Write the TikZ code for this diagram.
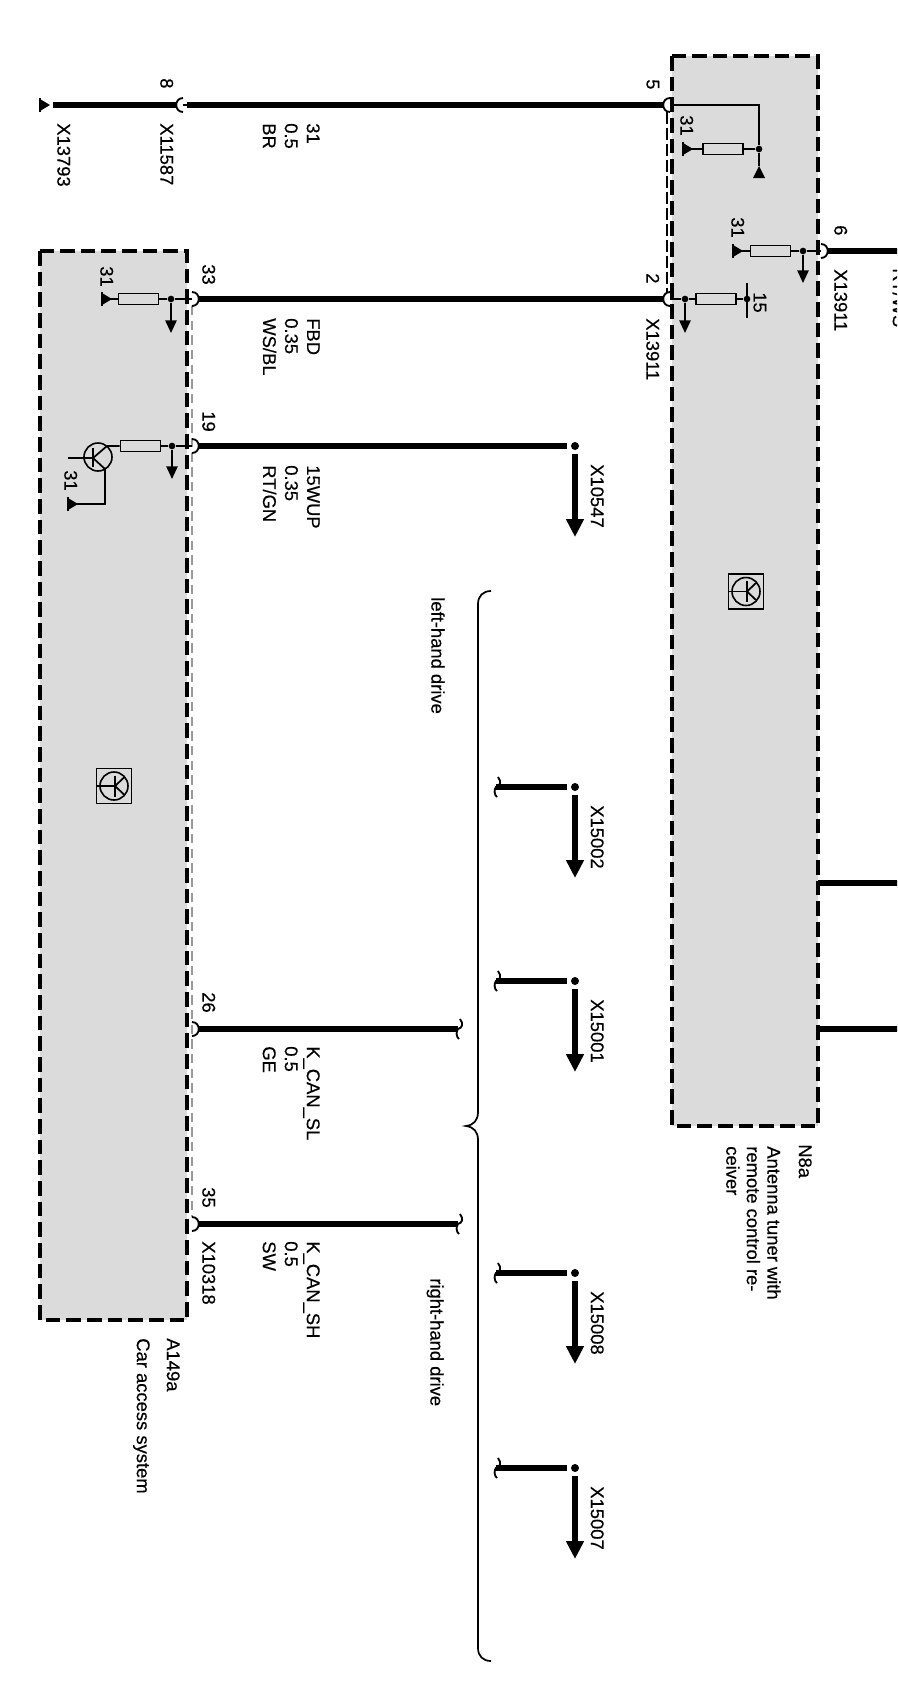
\documentclass[tikz,border=0pt]{standalone}
\usepackage{fontspec}
\setmainfont{Liberation Sans}[FakeBold=0.35]
\usetikzlibrary{arrows.meta,calc,positioning}
\definecolor{boxgray}{HTML}{DBDBDB}
\definecolor{shieldgray}{HTML}{9A9A9A}
\newcommand{\plugL}[1]{\draw[plugline] (#1) ++(0,-7) .. controls +(-9,0) and +(-9,0) .. +(0,14);}
\newcommand{\plugR}[1]{\draw[plugline] (#1) ++(0,-7) .. controls +(9,0) and +(9,0) .. +(0,14);}
\newcommand{\brkmark}[1]{\draw[plugline] ($(#1)+(2,-10)$) .. controls ($(#1)+(6,-5)$) and ($(#1)+(4,-1)$) .. (#1) .. controls ($(#1)+(-2,2)$) and ($(#1)+(-2,8)$) .. ($(#1)+(1,10)$);}
\newcommand{\gndmark}[1]{\fill (#1) ++(0,-6) -- ++(10,6) -- ++(-10,6) -- cycle; \draw[line width=2pt] (#1) ++(0,-7) -- ++(0,14);}
\tikzset{
  wire/.style={line width=4.8pt},
  thinw/.style={line width=1.3pt},
  plugline/.style={line width=1.4pt},
  modbox/.style={fill=boxgray,draw=black,line width=3pt,dash pattern=on 11pt off 4.5pt},
  res/.style={draw,line width=1.2pt,fill=boxgray,minimum width=30pt,minimum height=8.25pt,inner sep=0pt},
  jdot/.style={circle,fill=black,minimum size=5pt,inner sep=0pt},
  enddot/.style={circle,fill=black,minimum size=6pt,inner sep=0pt},
  lbl/.style={rotate=-90,anchor=north west,inner sep=0pt,align=left,font=\fontsize{13.8}{16.5}\selectfont},
  lblname/.style={lbl,font=\fontsize{13.8}{15.4}\selectfont},
  offarrow/.style={wire,-{Triangle[length=13.5pt,width=12.75pt]},shorten <=2.5pt},
  smallarrow/.style={thinw,-{Triangle[length=9.5pt,width=8.5pt]}},
}
\begin{document}
\begin{tikzpicture}[x=0.75pt,y=-0.75pt]
    \useasboundingbox (0,0) rectangle (897,1699);
    \clip (0,0) rectangle (897,1699);
    % modules
    \draw[modbox] (40,251) rectangle (187,1320);
    \draw[modbox] (672,56) rectangle (818,1126);
    \draw[line width=2pt,shieldgray,dash pattern=on 7pt off 4pt] (192,306) -- (192,1217);
    \coordinate (s5) at (667,112);
    \coordinate (s2) at (667,292);
    \draw[thinw,dash pattern=on 9pt off 3pt] (s5) -- (s2);

    % plug positions
    \coordinate (p8) at (183,105);
    \coordinate (p5) at (670,105);
    \coordinate (p33) at (192,299);
    \coordinate (p2) at (670,299);
    \coordinate (p19) at (192,446);
    \coordinate (p26) at (192,1029);
    \coordinate (p35) at (192,1224);
    \coordinate (p6) at (821,251);
    \plugL{p8} \plugL{p5} \plugL{p2}
    \plugR{p33} \plugR{p19} \plugR{p26} \plugR{p35} \plugR{p6}

    % wires
    \coordinate (g13793) at (40,105);
    \coordinate (w8a) at (53,105);
    \coordinate (w8b) at (176,105);
    \coordinate (w8c) at (187,105);
    \coordinate (w5) at (664,105);
    \draw[wire] (w8a) -- (w8b);
    \draw[thinw] (p8) -- (w8c);
    \draw[wire] (w8c) -- (w5);
    \gndmark{g13793}
    \coordinate (w33) at (198,299);
    \coordinate (w2) at (664,299);
    \draw[wire] (w33) -- (w2);
    \coordinate (w6a) at (827,251);
    \coordinate (w6b) at (900,251);
    \draw[wire] (w6a) -- (w6b);
    \coordinate (w19) at (198,446);
    \node[enddot] (d10547) at (575,446) {};
    \coordinate (t10547) at (575,537);
    \draw[wire,shorten >=3pt] (w19) -- (d10547);
    \draw[offarrow] (d10547) -- (t10547);
    \coordinate (w26) at (198,1029);
    \coordinate (b26) at (458,1029);
    \draw[wire] (w26) -- (b26);
    \brkmark{b26}
    \coordinate (w35) at (198,1224);
    \coordinate (b35) at (458,1224);
    \draw[wire] (w35) -- (b35);
    \brkmark{b35}
    \coordinate (ra) at (818,883);
    \coordinate (rb) at (900,883);
    \draw[wire] (ra) -- (rb);
    \coordinate (rc) at (818,1029);
    \coordinate (rd) at (900,1029);
    \draw[wire] (rc) -- (rd);

    % branches to the off-page arrows
    \coordinate (b15002) at (496,787);
    \node[enddot] (d15002) at (575,787) {};
    \coordinate (t15002) at (575,878);
    \draw[wire,shorten >=3pt] (b15002) -- (d15002);
    \draw[offarrow] (d15002) -- (t15002);
    \brkmark{b15002}
    \coordinate (b15001) at (496,981);
    \node[enddot] (d15001) at (575,981) {};
    \coordinate (t15001) at (575,1072);
    \draw[wire,shorten >=3pt] (b15001) -- (d15001);
    \draw[offarrow] (d15001) -- (t15001);
    \brkmark{b15001}
    \coordinate (b15008) at (496,1273);
    \node[enddot] (d15008) at (575,1273) {};
    \coordinate (t15008) at (575,1364);
    \draw[wire,shorten >=3pt] (b15008) -- (d15008);
    \draw[offarrow] (d15008) -- (t15008);
    \brkmark{b15008}
    \coordinate (b15007) at (496,1468);
    \node[enddot] (d15007) at (575,1468) {};
    \coordinate (t15007) at (575,1559);
    \draw[wire,shorten >=3pt] (b15007) -- (d15007);
    \draw[offarrow] (d15007) -- (t15007);
    \brkmark{b15007}

    % N8a inner circuits
    \node[res] (r5) at (723,149) {};
    \node[jdot] (j5) at (759,149) {};
    \coordinate (g5a) at (683,149);
    \coordinate (g5b) at (759,166);
    \draw[thinw] (p5) -| (j5);
    \draw[thinw] (j5) -- (g5b);
    \fill (g5b) -- ++(6,12) -- ++(-12,0) -- cycle;
    \draw[thinw] (j5) -- (r5);
    \draw[thinw] (r5) -- (g5a);
    \gndmark{g5a}
    \node[res] (r6) at (770.5,251) {};
    \node[jdot] (j6) at (803,251) {};
    \coordinate (g6a) at (733,251);
    \coordinate (t6) at (803,283);
    \draw[thinw] (p6) -- (j6);
    \draw[thinw] (j6) -- (r6);
    \draw[thinw] (r6) -- (g6a);
    \gndmark{g6a}
    \draw[smallarrow] (j6) -- (t6);
    \node[res] (r2) at (716,299) {};
    \node[jdot] (j2) at (685,299) {};
    \node[jdot] (j15) at (747,299) {};
    \coordinate (t2) at (685,333);
    \coordinate (k15a) at (747,283);
    \coordinate (k15b) at (747,318);
    \draw[thinw] (p2) -- (j2);
    \draw[thinw] (j2) -- (r2);
    \draw[thinw] (r2) -- (j15);
    \draw[thinw] (k15a) -- (k15b);
    \draw[smallarrow] (j2) -- (t2);

    % A149a inner circuits
    \node[res] (r33) at (138.5,299) {};
    \node[jdot] (j33) at (171,299) {};
    \coordinate (g33) at (102,299);
    \coordinate (t33) at (171,333);
    \draw[thinw] (p33) -- (j33);
    \draw[thinw] (j33) -- (r33);
    \draw[thinw] (r33) -- (g33);
    \gndmark{g33}
    \draw[smallarrow] (j33) -- (t33);
    \node[res] (r19) at (140.5,446) {};
    \node[jdot] (j19) at (172,446) {};
    \coordinate (t19) at (172,479);
    \draw[thinw] (p19) -- (j19);
    \draw[thinw] (j19) -- (r19);
    \draw[smallarrow] (j19) -- (t19);
    % transistor
    \node[circle,draw,line width=1.2pt,minimum size=21pt,inner sep=0pt] (q19) at (98,457) {};
    \coordinate (qb) at (68,458);
    \coordinate (qba) at (93,458);
    \coordinate (qbt) at (93,448);
    \coordinate (qbd) at (93,467);
    \coordinate (qc) at (107,446);
    \coordinate (qe) at (105,469);
    \coordinate (qf) at (105,504);
    \coordinate (g19) at (68,504);
    \draw[thinw] (qb) -- (qba);
    \draw[line width=1.6pt] (qbt) -- (qbd);
    \draw[thinw] (r19) -- (qc) -- (qba);
    \draw[thinw] (qba) -- (qe) -- (qf) -- (g19);
    \gndmark{g19}

    % module symbols
    \node[draw,line width=1.2pt,minimum size=26pt,inner sep=0pt] (symB) at (746,591.5) {};
    \node[circle,draw,line width=1.2pt,minimum size=21pt,inner sep=0pt] (symBc) at (746,591.5) {};
    \coordinate (symBa) at (747,591.5);
    \coordinate (symBt) at (747,581);
    \coordinate (symBb) at (747,602);
    \coordinate (symBu) at (756,583);
    \coordinate (symBv) at (756,600);
    \draw[thinw] (symB.west) -- (symBa);
    \draw[line width=1.6pt] (symBt) -- (symBb);
    \draw[thinw] (symBu) -- (symBa) -- (symBv);
    \node[draw,line width=1.2pt,minimum size=26pt,inner sep=0pt] (symA) at (114,786) {};
    \node[circle,draw,line width=1.2pt,minimum size=21pt,inner sep=0pt] (symAc) at (114,786) {};
    \coordinate (symAa) at (115,786);
    \coordinate (symAt) at (115,775.5);
    \coordinate (symAb) at (115,796.5);
    \coordinate (symAu) at (124,777.5);
    \coordinate (symAv) at (124,794.5);
    \draw[thinw] (symA.west) -- (symAa);
    \draw[line width=1.6pt] (symAt) -- (symAb);
    \draw[thinw] (symAu) -- (symAa) -- (symAv);

    % brace between the two drive variants
    \coordinate (brTop) at (491,591);
    \coordinate (brMid) at (466,1126);
    \coordinate (brBot) at (491,1661);
    \draw[thinw] (brTop) .. controls (483,591) and (478,596) .. (478,604) -- (478,1112) .. controls (478,1120) and (474,1125) .. (brMid) .. controls (474,1127) and (478,1132) .. (478,1140) -- (478,1648) .. controls (478,1656) and (483,1661) .. (brBot);

    % labels
    \node[lbl] (lX13793) at (70.5,123) {X13793};
    \node[lbl] (lX11587) at (173.5,123) {X11587};
    \node[lbl] (l8) at (173.5,78) {8};
    \node[lbl] (lw31) at (320,123) {31\\0.5\\BR};
    \node[lbl] (l33) at (215.5,264) {33};
    \node[lbl] (lwFBD) at (320,318) {FBD\\0.35\\WS/BL};
    \node[lbl] (l19) at (215.5,411) {19};
    \node[lbl] (lw15) at (320,465) {15WUP\\0.35\\RT/GN};
    \node[lbl] (l26) at (215.5,992) {26};
    \node[lbl] (lwSL) at (320,1046) {K\_CAN\_SL\\0.5\\GE};
    \node[lbl] (l35) at (215.5,1187) {35};
    \node[lbl] (lX10318) at (215.5,1241) {X10318};
    \node[lbl] (lwSH) at (320,1241) {K\_CAN\_SH\\0.5\\SW};
    \node[lblname] (lA149a) at (180,1338) {A149a};
    \node[lblname] (lCAS) at (150,1338) {Car access system};
    \node[lbl] (lLHD) at (445,597) {left-hand drive};
    \node[lbl] (lRHD) at (444,1278) {right-hand drive};
    \node[lbl] (lX10547) at (604,464) {X10547};
    \node[lbl] (lX15002) at (604,805) {X15002};
    \node[lbl] (lX15001) at (604,999) {X15001};
    \node[lbl] (lX15008) at (604,1291) {X15008};
    \node[lbl] (lX15007) at (604,1486) {X15007};
    \node[lbl] (l5) at (659.5,79) {5};
    \node[lbl] (l2) at (659.5,273) {2};
    \node[lbl] (lX13911a) at (659.5,318) {X13911};
    \node[lbl] (l6) at (847.5,225) {6};
    \node[lbl] (lX13911b) at (847.5,269) {X13911};
    \node[lbl] (lcut) at (906.5,268) {RT/WS};
    \node[lbl] (l31a) at (113.5,266) {31};
    \node[lbl] (l31b) at (77.5,470) {31};
    \node[lbl] (l31c) at (693.5,115) {31};
    \node[lbl] (l31d) at (744.5,217) {31};
    \node[lbl] (l15) at (766.5,292) {15};
    \node[lblname] (lN8a) at (812,1144) {N8a};
    \node[lblname] (lAnt) at (781,1146) {Antenna tuner with\\remote control re-\\ceiver};
\end{tikzpicture}
\end{document}
